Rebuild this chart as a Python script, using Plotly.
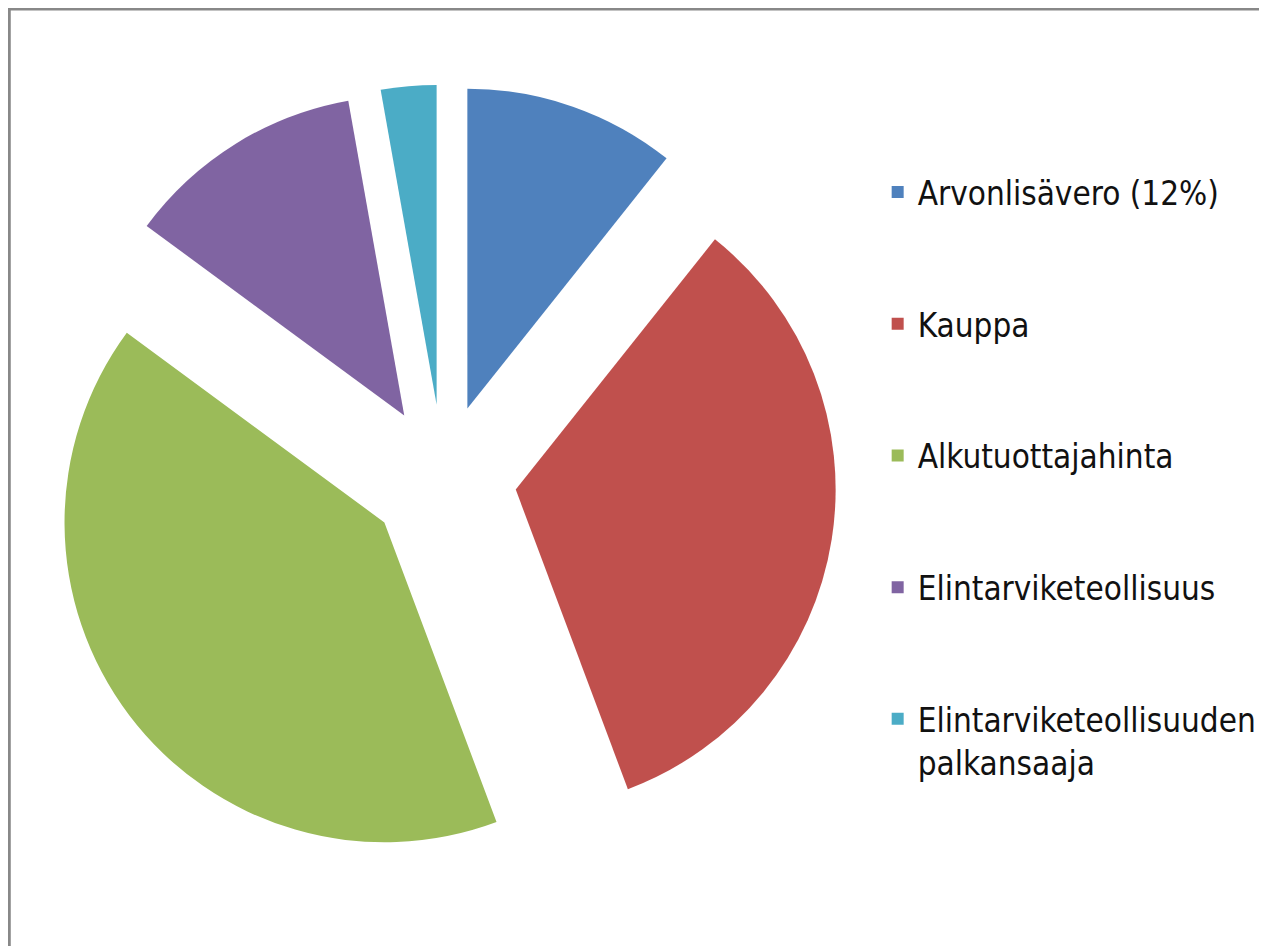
import plotly.graph_objects as go

labels = ["Arvonlisävero (12%)", "Kauppa", "Alkutuottajahinta",
          "Elintarviketeollisuus", "Elintarviketeollisuuden palkansaaja"]
legend_text = ["Arvonlisävero (12%)<br> <br> ", "Kauppa<br> <br> ", "Alkutuottajahinta<br> <br> ",
               "Elintarviketeollisuus<br> <br> ", "Elintarviketeollisuuden<br>palkansaaja"]
values = [10.7, 33.6, 40.8, 12.1, 2.8]
colors = ["#4F81BD", "#C0504D", "#9BBB59", "#8064A2", "#4BACC6"]

fig = go.Figure(go.Pie(
    labels=legend_text,
    values=values,
    customdata=labels,
    hovertemplate="%{customdata}: %{value}<extra></extra>",
    sort=False,
    direction="clockwise",
    rotation=0,
    pull=[0.23] * 5,
    textinfo="none",
    marker=dict(colors=colors, line=dict(width=0)),
    domain=dict(x=[0.0328, 0.654], y=[0.0872, 0.919]),
))

fig.update_layout(
    width=1267, height=946,
    margin=dict(l=0, r=0, t=0, b=0),
    paper_bgcolor="white",
    plot_bgcolor="white",
    showlegend=True,
    legend=dict(
        x=0.6864, xanchor="left", y=0.835, yanchor="top",
        valign="top",
        font=dict(family="Liberation Sans Narrow, DejaVu Sans Condensed, Liberation Sans, sans-serif",
                  size=33, color="#111111"),
        bgcolor="rgba(0,0,0,0)",
        itemclick=False, itemdoubleclick=False,
    ),
    shapes=[dict(type="rect", xref="paper", yref="paper",
                 x0=0.001, x1=1.02, y0=-0.02, y1=0.999,
                 line=dict(color="#888888", width=3), layer="above")],
)

fig.write_html("out.html")
